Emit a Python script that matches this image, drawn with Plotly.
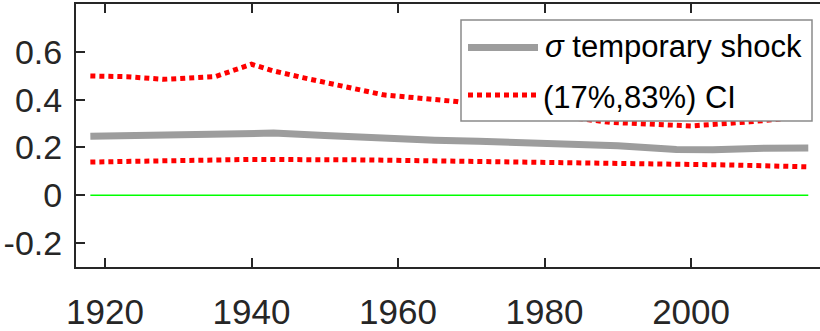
import plotly.graph_objects as go

# ---- data ----
sigma_years = [1918, 1925, 1930, 1939, 1943, 1950, 1958, 1965, 1971, 1980, 1990, 1998, 2003, 2010, 2016]
sigma_vals = [0.247, 0.250, 0.254, 0.263, 0.260, 0.250, 0.236, 0.230, 0.226, 0.219, 0.207, 0.191, 0.190, 0.197, 0.198]

upper_years = [1918, 1923, 1928, 1935, 1940, 1943, 1947, 1950, 1958, 1968, 1978, 1989, 2000, 2008, 2016]
upper_vals = [0.499, 0.496, 0.485, 0.496, 0.548, 0.520, 0.492, 0.473, 0.420, 0.392, 0.345, 0.305, 0.290, 0.307, 0.330]

lower_years = [1918, 1930, 1940, 1955, 1970, 1985, 1994, 2005, 2016]
lower_vals = [0.139, 0.145, 0.150, 0.148, 0.143, 0.138, 0.133, 0.127, 0.119]

zero_years = [1918, 2016]
zero_vals = [0, 0]

x_ticks = [1920, 1940, 1960, 1980, 2000]
y_ticks = [-0.2, 0, 0.2, 0.4, 0.6]
y_ticklabels = ["-0.2", "0", "0.2", "0.4", "0.6"]

legend_labels = ["<i>σ</i> temporary shock", "(17%,83%) CI"]

# ---- figure ----
W, H = 820, 331
ML, MR, MT, MB = 76, 0, 4, 64
PW, PH = W - ML - MR, H - MT - MB

def px(x):
    return (x - ML) / PW

def py(y):
    return (H - MB - y) / PH

RED_DASH = "5px,4px"
GRAY = "#9d9d9d"
RED = "#ff0000"
AXC = "#262626"
FONT = "Liberation Sans, Arial, sans-serif"

fig = go.Figure()
fig.add_trace(go.Scatter(x=zero_years, y=zero_vals, mode="lines",
                         line=dict(color="#00ff00", width=1.5), showlegend=False))
fig.add_trace(go.Scatter(x=upper_years, y=upper_vals, mode="lines",
                         line=dict(color=RED, width=5, dash=RED_DASH), showlegend=False))
fig.add_trace(go.Scatter(x=lower_years, y=lower_vals, mode="lines",
                         line=dict(color=RED, width=5, dash=RED_DASH), showlegend=False))
fig.add_trace(go.Scatter(x=sigma_years, y=sigma_vals, mode="lines",
                         line=dict(color=GRAY, width=7), showlegend=False))

# custom legend box
lx0, lx1, ly0, ly1 = 461, 812, 20, 121
shapes = [
    dict(type="rect", xref="paper", yref="paper", x0=px(lx0), x1=px(lx1), y0=py(ly1), y1=py(ly0),
         line=dict(color="#8a8a8a", width=1.5), fillcolor="white", layer="above"),
    dict(type="line", xref="paper", yref="paper", x0=px(468), x1=px(538), y0=py(47.5), y1=py(47.5),
         line=dict(color=GRAY, width=7), layer="above"),
    dict(type="line", xref="paper", yref="paper", x0=px(468), x1=px(538), y0=py(95), y1=py(95),
         line=dict(color=RED, width=5, dash=RED_DASH), layer="above"),
]
annotations = [
    dict(xref="paper", yref="paper", x=px(543), y=py(47), text=legend_labels[0], showarrow=False,
         xanchor="left", yanchor="middle", font=dict(family=FONT, size=31, color="black")),
    dict(xref="paper", yref="paper", x=px(541), y=py(97), text=legend_labels[1], showarrow=False,
         xanchor="left", yanchor="middle", font=dict(family=FONT, size=31, color="black")),
]

fig.update_layout(
    width=W, height=H,
    margin=dict(l=ML, r=MR, t=MT, b=MB, pad=0),
    paper_bgcolor="white", plot_bgcolor="white",
    showlegend=False,
    font=dict(family=FONT, color=AXC),
    shapes=shapes, annotations=annotations,
    xaxis=dict(range=[1916.04, 2017.6], tickvals=x_ticks, ticktext=[str(t) for t in x_ticks],
               ticks="inside", ticklen=9, tickwidth=2, tickcolor=AXC,
               showline=True, linewidth=2, linecolor=AXC, mirror="ticks",
               showgrid=False, zeroline=False, tickfont=dict(size=35, color=AXC),
               ticklabelstandoff=13),
    yaxis=dict(range=[-0.3, 0.8], tickvals=y_ticks, ticktext=y_ticklabels,
               ticks="inside", ticklen=9, tickwidth=2, tickcolor=AXC,
               showline=True, linewidth=2, linecolor=AXC, mirror=False,
               showgrid=False, zeroline=False, tickfont=dict(size=34, color=AXC),
               ticklabelstandoff=5),
    yaxis2=dict(range=[-0.3, 0.8], overlaying="y", side="right", tickvals=y_ticks,
                ticks="inside", ticklen=6, tickwidth=2, tickcolor=AXC,
                showline=False, showticklabels=False, showgrid=False, zeroline=False),
)

fig.write_html("out.html")
